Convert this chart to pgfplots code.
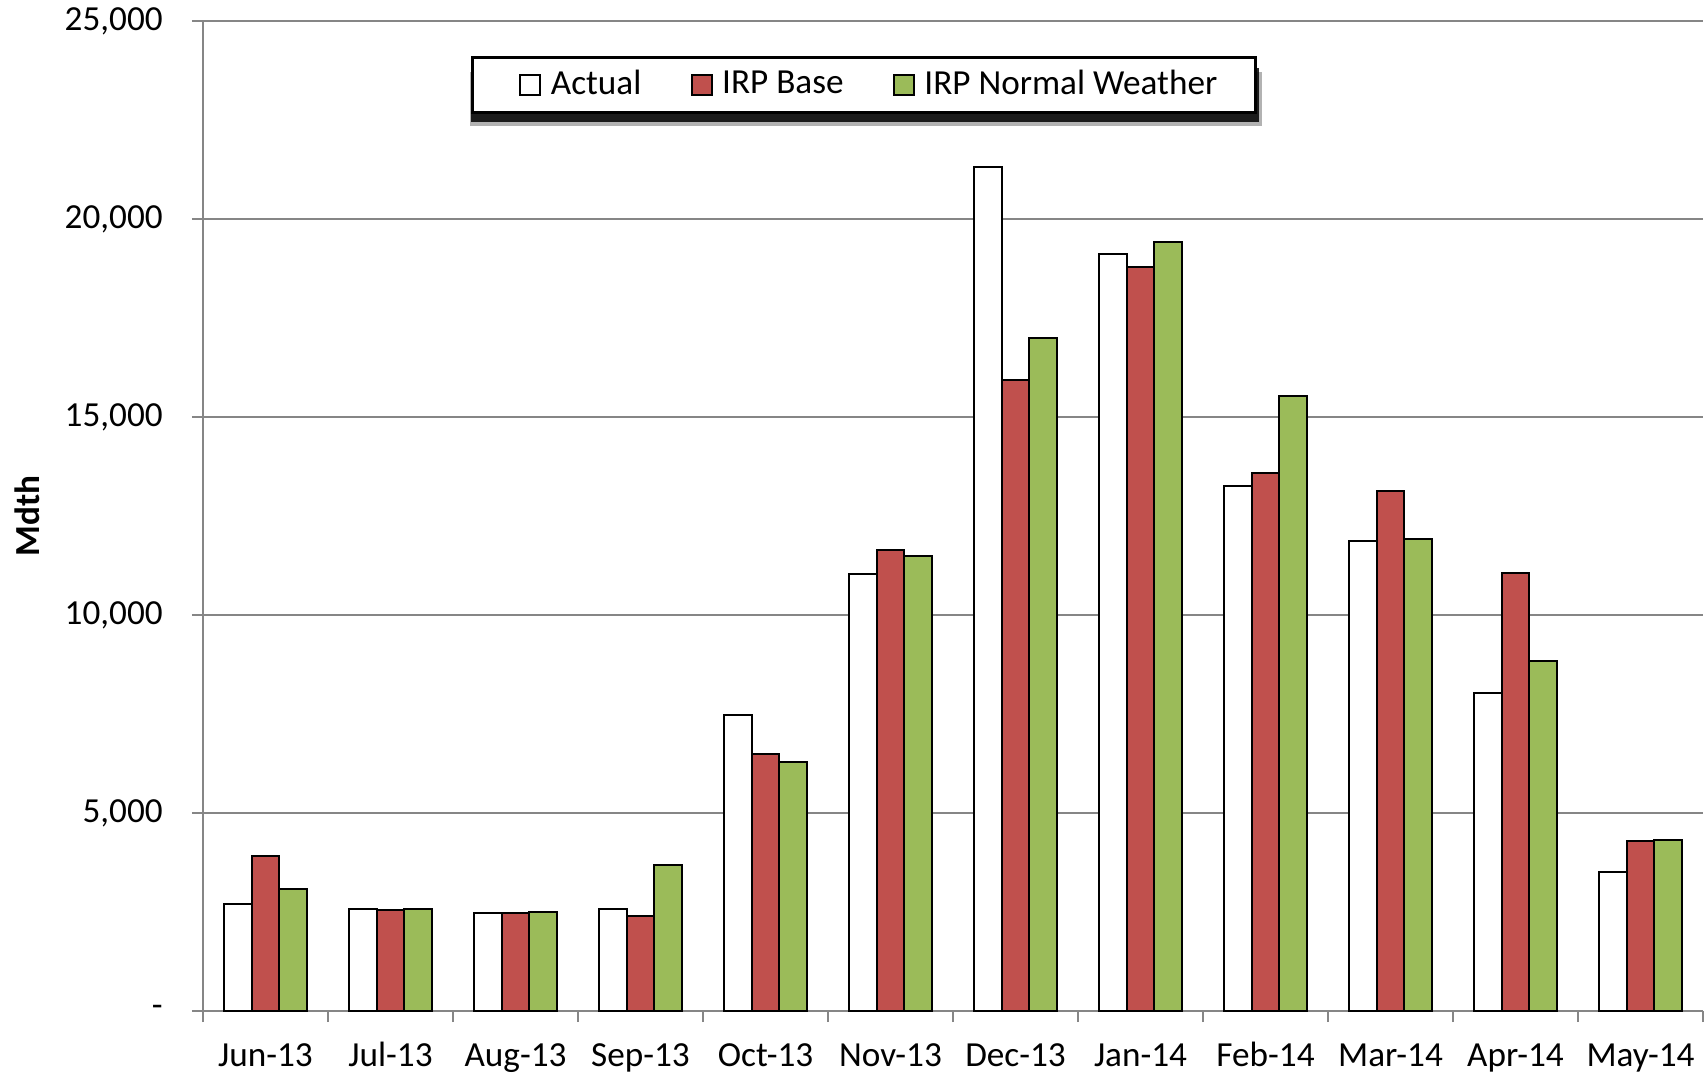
\documentclass[border=0pt]{standalone}
\usepackage{pgfplots}
\pgfplotsset{compat=1.18}
\usepackage{fontspec}
\setmainfont{Carlito}
\definecolor{cred}{HTML}{C0504D}
\definecolor{cgreen}{HTML}{9BBB59}
\definecolor{cgrid}{RGB}{134,134,134}
\newcommand{\fs}{\fontsize{8.8}{10}\selectfont}
\pgfplotsset{legsq/.style={legend image code/.code={\path[draw=none,fill=none] (-4.4pt,0pt) -- (5.6pt,0pt);\draw[##1,draw=black,line width=0.5pt] (0pt,-2.5pt) rectangle (5pt,2.5pt);}}}
\begin{document}
\begin{tikzpicture}
\useasboundingbox (-50.75pt,-16.75pt) rectangle (376.25pt,252.75pt);
\begin{axis}[
 at={(0,0)}, anchor=south west,
 scale only axis, width=375pt, height=247.5pt,
 ybar, bar width=0.222,
 xmin=-0.5, xmax=11.5, ymin=0, ymax=25000,
 axis x line*=bottom, axis y line*=left,
 axis line style={cgrid, line width=0.6pt},
 ytick={0,5000,10000,15000,20000,25000},
 yticklabels={-,{5,000},{10,000},{15,000},{20,000},{25,000}},
 ymajorgrids, grid style={cgrid, line width=0.5pt},
 xtick={0,...,11},
 xticklabels={Jun-13,Jul-13,Aug-13,Sep-13,Oct-13,Nov-13,Dec-13,Jan-14,Feb-14,Mar-14,Apr-14,May-14},
 minor xtick={-0.5,0.5,...,11.5},
 tick align=outside, major tick length=2.75pt, minor tick length=2.75pt,
 tick style={cgrid, line width=0.6pt},
 major x tick style={draw=none},
 xticklabel style={font=\fs, anchor=base, yshift=-11pt},
 yticklabel style={font=\fs, anchor=east, xshift=-3.8pt, inner ysep=0pt},
 ylabel={\textbf{Mdth}},
 ylabel style={font=\fs, at={(axis description cs:-0.1173,0.5)}, anchor=center},
 legend columns=3,
 legend style={at={(0.4407,0.9354)}, anchor=center, draw=black, line width=0.8pt, fill=white, font=\fs,
   inner xsep=7.55pt, inner ysep=1pt,
   /tikz/every even column/.append style={column sep=6.2pt}},
]
\fill[black, opacity=0.3] ([xshift=0.4pt,yshift=-3.6pt]rel axis cs:0.1767,0.9081) rectangle ([xshift=1.6pt,yshift=-3.6pt]rel axis cs:0.702,0.9626);
\fill[black, opacity=0.85] ([xshift=0.8pt,yshift=-2.6pt]rel axis cs:0.1767,0.9081) rectangle ([xshift=0.8pt,yshift=-2.6pt]rel axis cs:0.702,0.9626);
\addplot[legsq, draw=black, line width=0.5pt, fill=white, bar shift=-0.222] coordinates {
 (0,2695) (1,2585) (2,2475) (3,2585) (4,7480) (5,11030) (6,21315) (7,19115) (8,13255) (9,11880) (10,8030) (11,3520)};
\addplot[legsq, draw=black, line width=0.5pt, fill=cred, bar shift=0] coordinates {
 (0,3905) (1,2560) (2,2475) (3,2390) (4,6490) (5,11635) (6,15925) (7,18785) (8,13585) (9,13120) (10,11055) (11,4290)};
\addplot[legsq, draw=black, line width=0.5pt, fill=cgreen, bar shift=0.222] coordinates {
 (0,3080) (1,2585) (2,2500) (3,3685) (4,6300) (5,11495) (6,17000) (7,19420) (8,15540) (9,11910) (10,8830) (11,4320)};
\legend{Actual, IRP Base, IRP Normal Weather}
\end{axis}
\end{tikzpicture}
\end{document}
